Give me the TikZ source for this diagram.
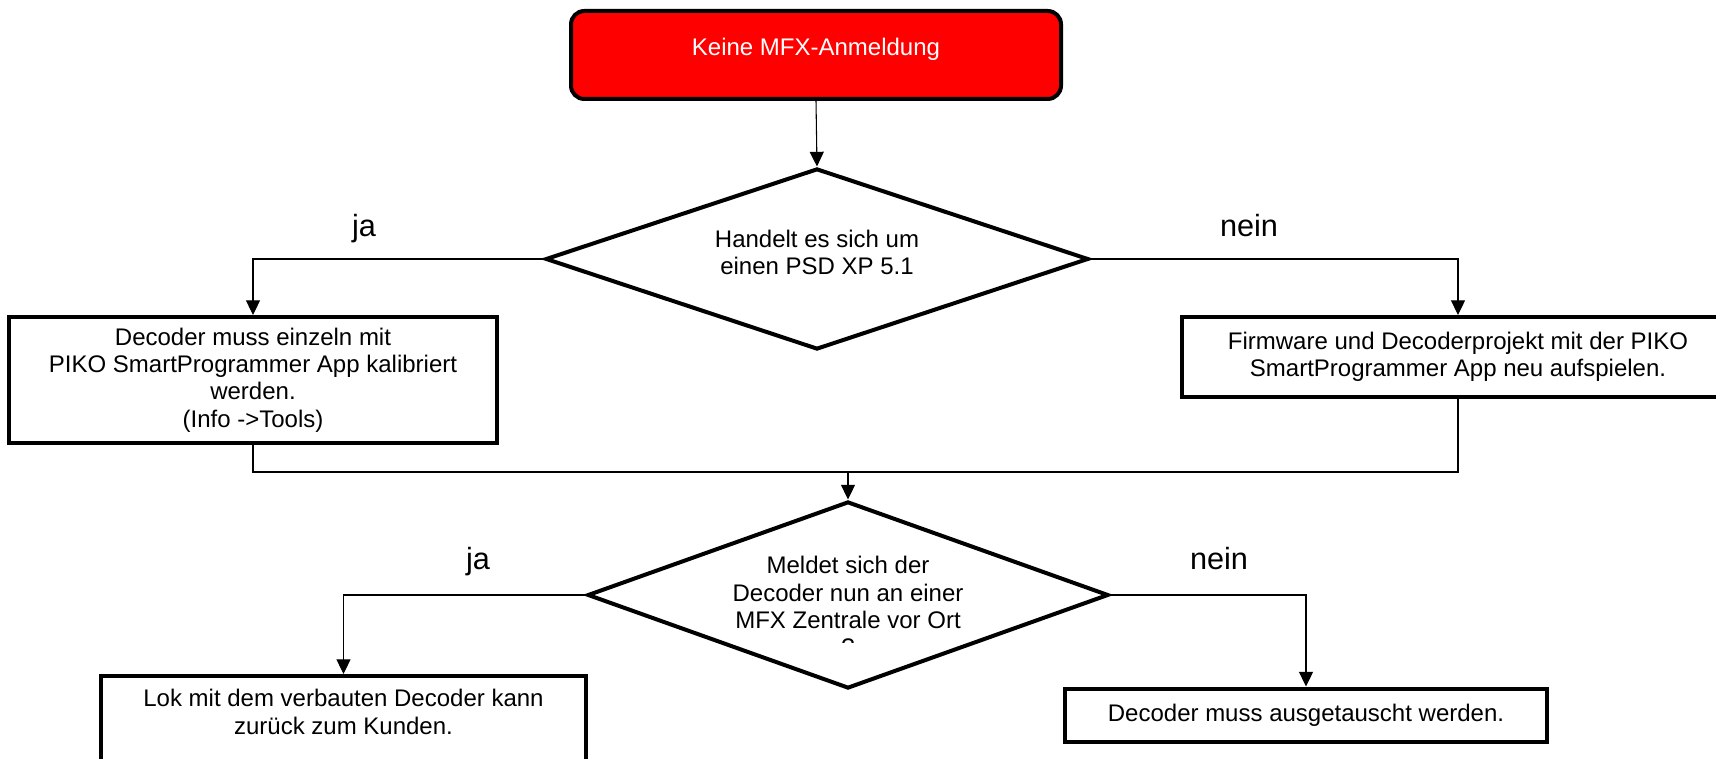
\documentclass[tikz,border=0pt]{standalone}
\usepackage{fontspec}
\setmainfont{Liberation Sans}
\usepackage{tikz}
\usetikzlibrary{arrows.meta, shapes.geometric, positioning}
\tikzset{>={Triangle[length=11pt,width=10.5pt]}}
\newlength{\pu}
\setlength{\pu}{0.75pt}

\begin{document}
\begin{tikzpicture}[x=0.75pt, y=-0.75pt,
        txt/.style={font=\fontsize{18}{20.5}\selectfont, align=center},
        startbox/.style={txt, draw, line width=3pt, rounded corners=10pt, fill=red, text=white},
        stepbox/.style={txt, draw, line width=3pt, fill=white},
        decision/.style={txt, diamond, aspect=2.9, draw, line width=3pt, inner sep=0pt, fill=white},
        answer/.style={font=\fontsize{23}{27}\selectfont, anchor=base},
        link/.style={line width=0.8pt}]
    \useasboundingbox (0,0) rectangle (1716,759);
    \node[startbox, minimum width=490\pu, minimum height=88\pu, text height=13pt, text depth=12pt] (start) at (816,55) {Keine MFX-Anmeldung};
    \node[decision, minimum width=543\pu, minimum height=181\pu] (psd) at (817,259) {};
    \node[txt] (psdtext) at (817,252.5) {Handelt es sich um\\einen PSD XP 5.1};
    \node[stepbox, minimum width=488\pu, minimum height=126\pu] (calib) at (253,380) {Decoder muss einzeln mit\\PIKO SmartProgrammer App kalibriert\\werden.\\(Info ->Tools)};
    \node[stepbox, minimum width=552\pu, minimum height=80\pu] (flash) at (1458,357) {Firmware und Decoderprojekt mit der PIKO\\SmartProgrammer App neu aufspielen.};
    \node[decision, minimum width=521\pu, minimum height=187\pu] (mfx) at (848,595) {};
    \begin{scope}
        \clip (600,540) rectangle (1100,642);
        \node[txt] (mfxtext) at (848,606) {Meldet sich der\\Decoder nun an einer\\MFX Zentrale vor Ort\\?};
    \end{scope}
    \node[stepbox, minimum width=485\pu, inner ysep=10pt, anchor=north] (back) at (343.5,674) {Lok mit dem verbauten Decoder kann\\zurück zum Kunden.\\[60\pu]\mbox{}};
    \node[stepbox, minimum width=482\pu, minimum height=53\pu] (swap) at (1306,715) {Decoder muss ausgetauscht werden.};
    \node[answer] (ja1) at (364,237) {ja};
    \node[answer] (nein1) at (1249,237) {nein};
    \node[answer] (ja2) at (478,569) {ja};
    \node[answer] (nein2) at (1219,569) {nein};
    \coordinate (merge) at (848,472);
    \draw[link,->] (start.south) -- (psd.north);
    \draw[link,->] (psd.west) -| (calib.north);
    \draw[link,->] (psd.east) -| (flash.north);
    \draw[link] (calib.south) |- (merge) -| (flash.south);
    \draw[link,->] (merge) -- (mfx.north);
    \draw[link,->] (mfx.west) -| (back.north);
    \draw[link,->] (mfx.east) -| (swap.north);
\end{tikzpicture}
\end{document}
